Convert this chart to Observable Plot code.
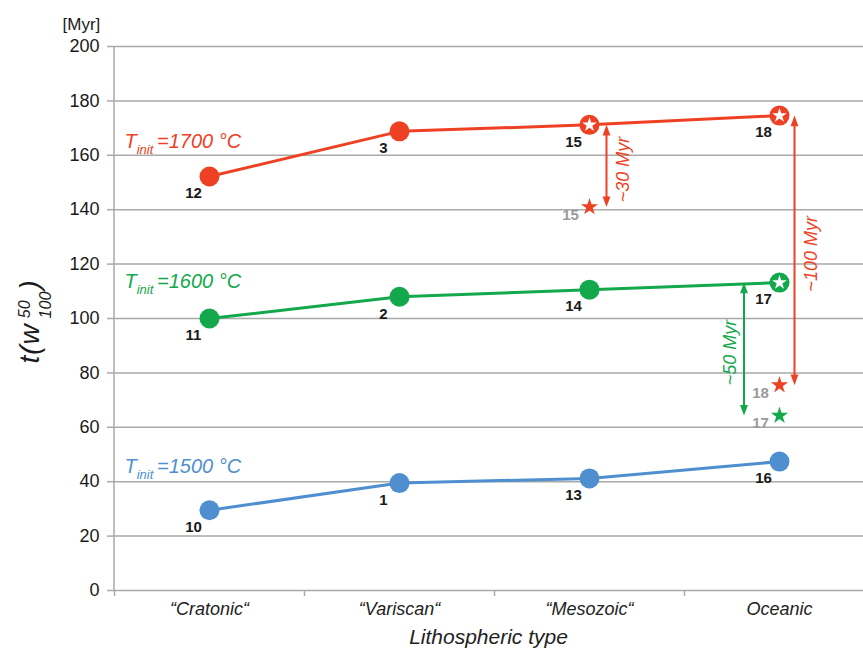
<!DOCTYPE html>
<html>
<head>
<meta charset="utf-8">
<script src="https://cdn.jsdelivr.net/npm/d3@7"></script>
<script src="https://cdn.jsdelivr.net/npm/@observablehq/plot@0.6"></script>
<style>
  body { margin: 0; background: #fff; }
  #chart svg { display: block; }
</style>
</head>
<body>
<div id="chart"></div>
<script>
// ---- data ----
const categories = ["“Cratonic“", "“Variscan“", "“Mesozoic“", "Oceanic"];
const series = ["1500", "1600", "1700"];
const values1500 = [29.5, 39.5, 41.2, 47.4];
const values1600 = [100, 108, 110.6, 113.2];
const values1700 = [152.2, 168.8, 171.2, 174.6];
const ids1500 = ["10", "1", "13", "16"];
const ids1600 = ["11", "2", "14", "17"];
const ids1700 = ["12", "3", "15", "18"];
const starCategory = ["“Mesozoic“", "Oceanic", "Oceanic"];
const starSeries = ["1700", "1700", "1600"];
const starValues = [141, 75.5, 64.3];
const starIds = ["15", "18", "17"];
const arrowText = ["~30 Myr", "~100 Myr", "~50 Myr"];
const seriesLabels = ["Tinit =1500 °C", "Tinit =1600 °C", "Tinit =1700 °C"];
const yTicks = [0, 20, 40, 60, 80, 100, 120, 140, 160, 180, 200];
const yUnit = "[Myr]";
const yTitle = "t(w50100)";
const xTitle = "Lithospheric type";

// ---- tables built from the arrays ----
const valuesBy = {"1500": values1500, "1600": values1600, "1700": values1700};
const idsBy = {"1500": ids1500, "1600": ids1600, "1700": ids1700};
const points = series.flatMap(s => categories.map((c, i) => ({cat: c, series: s, value: valuesBy[s][i], id: idsBy[s][i]})));
const stars = starValues.map((v, i) => ({cat: starCategory[i], series: starSeries[i], value: v, id: starIds[i]}));
const ringed = points.filter(p => stars.some(s => s.series === p.series && s.cat === p.cat));
const arrows = stars.map((s, i) => {
  const from = valuesBy[s.series][categories.indexOf(s.cat)];
  return {cat: s.cat, series: s.series, from, to: s.value, mid: (from + s.value) / 2, label: arrowText[i]};
});
const labelRows = series.map((s, i) => ({series: s, label: seriesLabels[i], y: valuesBy[s][0]}));

// ---- styling ----
const colors = ["#4f8fd0", "#12a84b", "#ee4123"];
const grid = "#a9a9a9";
const arrowDx = [17, 15, -35.5];
const arrowLabelDx = [33.5, 31.5, -49];
const labelDy = {"1500": -43.5, "1600": -37, "1700": -34.5};

const headUp = {draw(ctx, size) { const r = Math.sqrt(size / Math.PI), L = 2.3 * r, W = 0.85 * r;
  ctx.moveTo(0, 0); ctx.lineTo(W, L); ctx.lineTo(-W, L); ctx.closePath(); }};
const headDown = {draw(ctx, size) { const r = Math.sqrt(size / Math.PI), L = 2.3 * r, W = 0.85 * r;
  ctx.moveTo(0, 0); ctx.lineTo(W, -L); ctx.lineTo(-W, -L); ctx.closePath(); }};

const arrowMarks = arrows.flatMap((a, i) => [
  Plot.ruleX([a], {x: "cat", y1: "from", y2: "to", dx: arrowDx[i], stroke: "series", strokeWidth: 2, insetTop: 5, insetBottom: 5}),
  Plot.dot([a], {x: "cat", y: "from", dx: arrowDx[i], fill: "series", r: 4.6, symbol: headUp, stroke: "none"}),
  Plot.dot([a], {x: "cat", y: "to", dx: arrowDx[i], fill: "series", r: 4.6, symbol: headDown, stroke: "none"}),
  Plot.text([a], {x: "cat", y: "mid", text: "label", dx: arrowLabelDx[i], dy: 3.5, rotate: -90, fill: "series",
    fontSize: 18, fontStyle: "italic"})
]);

const seriesLabelMarks = labelRows.map(r =>
  Plot.text([r], {frameAnchor: "left", y: "y", text: "label", fill: "series", dx: 11, dy: labelDy[r.series],
    textAnchor: "start", fontSize: 20, fontStyle: "italic"})
);

const plot = Plot.plot({
  width: 863,
  height: 654,
  marginTop: 46,
  marginBottom: 64,
  marginLeft: 113,
  marginRight: 0,
  style: {fontFamily: "'Liberation Sans', Arial, sans-serif", color: "#1a1a1a", background: "white"},
  x: {type: "point", domain: categories, range: [208.5, 778.5], padding: 0},
  y: {domain: [0, 200]},
  color: {domain: series, range: colors},
  marks: [
    Plot.gridY({ticks: yTicks, stroke: grid, strokeOpacity: 1, strokeWidth: 1.5}),
    Plot.ruleX([categories[0]], {dx: -95.5, stroke: grid, strokeWidth: 1.5}),
    Plot.axisY({ticks: yTicks, tickSize: 6, tickPadding: 8, stroke: grid, strokeWidth: 1.5, fill: "#1a1a1a", fontSize: 18, label: null}),
    Plot.axisX({ticks: categories, tickSize: 6, tickFormat: () => "", dx: -95, stroke: grid, strokeWidth: 1.5, label: null}),
    Plot.axisX({tickSize: 0, tickPadding: 12, fontSize: 18, fontStyle: "italic", fill: "#222", label: null}),
    Plot.text([xTitle], {frameAnchor: "bottom", dy: 53, fontSize: 21, fontStyle: "italic", fill: "#222"}),
    Plot.text([yUnit], {frameAnchor: "top-left", dx: -51, dy: -29, textAnchor: "start", fontSize: 17, fill: "#1a1a1a"}),
    Plot.text([yTitle], {frameAnchor: "left", dx: -83, dy: 45, rotate: -90, textAnchor: "start", fontSize: 28, fontStyle: "italic", fill: "#1a1a1a"}),
    Plot.line(points, {x: "cat", y: "value", z: "series", stroke: "series", strokeWidth: 3}),
    ...arrowMarks,
    Plot.dot(points, {x: "cat", y: "value", fill: "series", r: 10}),
    Plot.dot(ringed, {x: "cat", y: "value", fill: "white", r: 4.6, symbol: "star"}),
    Plot.dot(stars, {x: "cat", y: "value", fill: "series", r: 5.4, symbol: "star"}),
    Plot.text(points, {x: "cat", y: "value", text: "id", dx: -16, dy: 17, fontWeight: "bold", fontSize: 15, fill: "#1a1a1a"}),
    Plot.text(stars, {x: "cat", y: "value", text: "id", dx: -19, dy: 8, fontWeight: "bold", fontSize: 15, fill: "#9a9a9a"}),
    ...seriesLabelMarks
  ]
});

// rich text (sub/superscripts) on the title texts
d3.select(plot).selectAll("text").each(function () {
  const t = this.textContent;
  const sel = d3.select(this);
  const m = /^Tinit (=.*)$/.exec(t);
  if (m) {
    sel.text(null);
    sel.append("tspan").text("T");
    sel.append("tspan").attr("font-size", 13).attr("dy", 6).text("init ");
    sel.append("tspan").attr("font-size", 20).attr("dy", -6).text(m[1]);
  } else if (t === yTitle) {
    sel.text(null);
    sel.append("tspan").attr("letter-spacing", 1).text("t(w");
    sel.append("tspan").attr("font-size", 16).attr("dx", 5).attr("dy", -9).text("50");
    sel.append("tspan").attr("font-size", 16).attr("dx", -18).attr("dy", 21).text("100");
    sel.append("tspan").attr("font-size", 28).attr("dx", 2).attr("dy", -12).text(")");
  }
});

document.getElementById("chart").appendChild(plot);
</script>
</body>
</html>
